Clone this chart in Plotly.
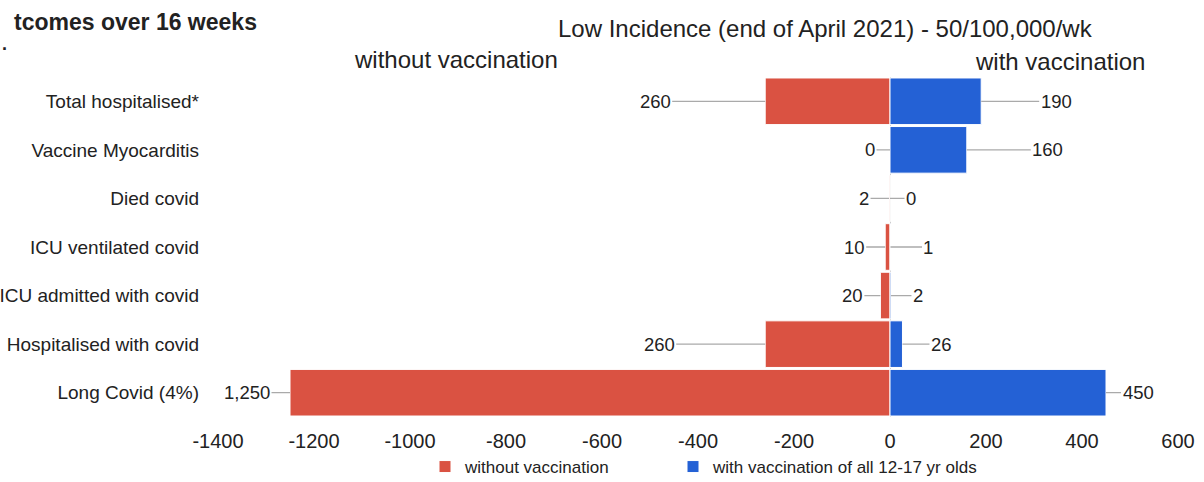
import plotly.graph_objects as go

categories = ["Total hospitalised*", "Vaccine Myocarditis", "Died covid", "ICU ventilated covid",
              "ICU admitted with covid", "Hospitalised with covid", "Long Covid (4%)"]
without_vacc = [260, 0, 2, 10, 20, 260, 1250]
with_vacc = [190, 160, 0, 1, 2, 26, 450]
tick_vals = [-1400, -1200, -1000, -800, -600, -400, -200, 0, 200, 400, 600]
tick_text = [str(v) for v in tick_vals]

RED = "#DA5242"
BLUE = "#2461D5"
FONT = "Liberation Sans"
TXT = "#222222"

# label offsets (pixels) - styling only
red_off = [-110, -20, -25, -31, -28, -106, -43]
blue_off = [75, 81, 21, 38, 27, 39, 32]

W, H = 1204, 482
L, R, T, B = 218, 26, 77, 65
pw, ph = W - L - R, H - T - B

fig = go.Figure()
fig.add_trace(go.Bar(y=categories, x=[-v for v in without_vacc], orientation="h",
                     name="without vaccination", legend="legend",
                     marker=dict(color=RED, line=dict(color="white", width=1))))
fig.add_trace(go.Bar(y=categories, x=with_vacc, orientation="h",
                     name="with vaccination of all 12-17 yr olds", legend="legend2",
                     marker=dict(color=BLUE, line=dict(color="white", width=1))))

ann = []
for c, v, o in zip(categories, without_vacc, red_off):
    ann.append(dict(x=-v, y=c, xref="x", yref="y", text=f"{v:,}", showarrow=True, arrowhead=0,
                    arrowcolor="#aaaaaa", arrowwidth=1.3, ax=o, ay=0,
                    font=dict(family=FONT, size=18.5, color=TXT)))
for c, v, o in zip(categories, with_vacc, blue_off):
    ann.append(dict(x=v, y=c, xref="x", yref="y", text=f"{v:,}", showarrow=True, arrowhead=0,
                    arrowcolor="#aaaaaa", arrowwidth=1.3, ax=o, ay=0,
                    font=dict(family=FONT, size=18.5, color=TXT)))


def px_text(x, y, text, size, bold=False):
    return dict(x=(x - L) / pw, y=(H - B - y) / ph, xref="paper", yref="paper",
                text=f"<b>{text}</b>" if bold else text, showarrow=False,
                xanchor="center", yanchor="middle",
                font=dict(family=FONT, size=size, color=TXT))


ann += [
    px_text(825, 28, "Low Incidence (end of April 2021) - 50/100,000/wk", 24),
    px_text(456, 60, "without vaccination", 24),
    px_text(1060, 62, "with vaccination", 24),
    px_text(135, 22, "tcomes over 16 weeks", 23, bold=True),
    px_text(4, 44, ".", 18, bold=True),
]

legend_common = dict(orientation="h", yref="container", xref="container", y=1 - 467 / H, yanchor="middle",
                     xanchor="left", font=dict(family=FONT, size=17, color=TXT), itemwidth=30,
                     bgcolor="rgba(0,0,0,0)")

fig.update_layout(
    annotations=ann,
    width=W, height=H,
    margin=dict(l=L, r=R, t=T, b=B),
    barmode="relative",
    bargap=0.04,
    plot_bgcolor="white", paper_bgcolor="white",
    font=dict(family=FONT, size=16, color=TXT),
    xaxis=dict(range=[-1400, 600], tickvals=tick_vals, ticktext=tick_text, showgrid=False, zeroline=True,
               zerolinecolor="#cccccc", zerolinewidth=1, showline=False, automargin=False,
               tickfont=dict(family=FONT, size=20, color=TXT), ticklabelstandoff=10),
    yaxis=dict(autorange="reversed", showgrid=False, zeroline=False, automargin=False,
               tickfont=dict(family=FONT, size=19, color=TXT), ticklabelstandoff=18),
    legend=dict(x=425 / W, **legend_common),
    legend2=dict(x=673 / W, **legend_common),
    showlegend=True,
)
fig.write_html("out.html", config={"displayModeBar": False},
               post_script="document.body.style.margin='0px';")
